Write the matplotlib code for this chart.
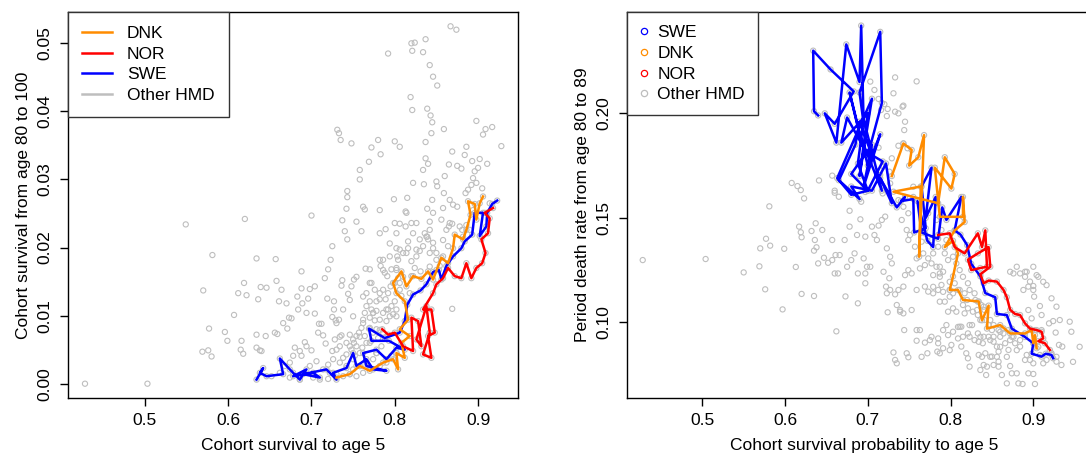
import matplotlib
matplotlib.use("Agg")
import matplotlib.pyplot as plt
from matplotlib.lines import Line2D

plt.rcParams['font.family'] = ['Liberation Sans', 'DejaVu Sans']

# ---- left panel: cohort survival to 5 vs cohort survival 80 -> 100
left_other_x = [0.428, 0.503, 0.549, 0.581, 0.570, 0.577, 0.569, 0.576, 0.580, 0.596, 0.599, 0.607,
                0.612, 0.619, 0.622, 0.620, 0.616, 0.615, 0.618, 0.634, 0.657, 0.639, 0.646, 0.636,
                0.634, 0.645, 0.656, 0.659, 0.634, 0.638, 0.640, 0.658, 0.661, 0.664, 0.670, 0.666,
                0.671, 0.673, 0.676, 0.688, 0.688, 0.704, 0.698, 0.683, 0.689, 0.696, 0.700, 0.684,
                0.694, 0.704, 0.709, 0.712, 0.680, 0.686, 0.688, 0.694, 0.700, 0.692, 0.708, 0.714,
                0.717, 0.725, 0.728, 0.736, 0.716, 0.720, 0.723, 0.725, 0.719, 0.727, 0.727, 0.725,
                0.729, 0.733, 0.731, 0.733, 0.735, 0.748, 0.737, 0.740, 0.743, 0.742, 0.743, 0.743,
                0.736, 0.744, 0.737, 0.748, 0.751, 0.754, 0.758, 0.758, 0.769, 0.772, 0.780, 0.783,
                0.764, 0.782, 0.789, 0.794, 0.765, 0.770, 0.772, 0.766, 0.776, 0.782, 0.786, 0.783,
                0.788, 0.791, 0.796, 0.802, 0.766, 0.770, 0.778, 0.782, 0.770, 0.776, 0.792, 0.800,
                0.806, 0.799, 0.800, 0.806, 0.813, 0.815, 0.813, 0.814, 0.802, 0.806, 0.803, 0.820,
                0.824, 0.837, 0.821, 0.834, 0.842, 0.846, 0.851, 0.819, 0.821, 0.839, 0.843, 0.845,
                0.844, 0.859, 0.837, 0.837, 0.840, 0.834, 0.822, 0.835, 0.839, 0.845, 0.850, 0.851,
                0.860, 0.865, 0.869, 0.875, 0.880, 0.884, 0.886, 0.898, 0.906, 0.909, 0.917, 0.928,
                0.911, 0.902, 0.893, 0.896, 0.900, 0.894, 0.898, 0.892, 0.905, 0.867, 0.874, 0.859,
                0.866, 0.858, 0.870, 0.875, 0.856, 0.865, 0.869, 0.881, 0.885, 0.888, 0.869, 0.846,
                0.842, 0.836, 0.840, 0.834, 0.830, 0.826, 0.820, 0.824, 0.831, 0.820, 0.816, 0.810,
                0.816, 0.822, 0.830, 0.842, 0.839, 0.846, 0.850, 0.854, 0.746, 0.750, 0.754, 0.748,
                0.742, 0.752, 0.757, 0.760, 0.764, 0.766, 0.761, 0.770, 0.774, 0.778, 0.780, 0.786,
                0.790, 0.794, 0.792, 0.796, 0.800, 0.798, 0.789, 0.786, 0.792, 0.795, 0.800, 0.804,
                0.806, 0.808, 0.802, 0.784, 0.778, 0.774, 0.766, 0.758, 0.750, 0.742, 0.734, 0.726,
                0.720, 0.714, 0.722, 0.730, 0.738, 0.746, 0.754, 0.762, 0.770, 0.782, 0.790, 0.796,
                0.802, 0.750, 0.738, 0.706, 0.698, 0.678, 0.674, 0.686, 0.702, 0.710, 0.720, 0.678,
                0.674, 0.668, 0.662, 0.652, 0.734, 0.742, 0.754, 0.751, 0.758, 0.762, 0.764, 0.772,
                0.778, 0.782, 0.786, 0.774,
                0.762, 0.782, 0.754, 0.760, 0.802, 0.820, 0.826, 0.838, 0.846, 0.858, 0.864, 0.862,
                0.866, 0.878, 0.886, 0.858, 0.850, 0.842, 0.826, 0.814, 0.804, 0.794, 0.786, 0.802,
                0.810, 0.842, 0.850, 0.806, 0.818, 0.782, 0.770, 0.762, 0.746, 0.738, 0.750, 0.774,
                0.790, 0.802, 0.762, 0.730, 0.782, 0.758, 0.734, 0.746, 0.770, 0.730, 0.778, 0.914,
                0.894, 0.890, 0.882]
left_other_y = [0.0000, 0.0000, 0.0234, 0.0189, 0.0137, 0.0081, 0.0047, 0.0049, 0.0040, 0.0076, 0.0063, 0.0101,
                0.0133, 0.0148, 0.0130, 0.0242, 0.0063, 0.0050, 0.0044, 0.0184, 0.0183, 0.0142, 0.0141, 0.0124,
                0.0072, 0.0070, 0.0075, 0.0073, 0.0053, 0.0049, 0.0048, 0.0151, 0.0121, 0.0138, 0.0118, 0.0089,
                0.0081, 0.0097, 0.0096, 0.0165, 0.0140, 0.0143, 0.0139, 0.0128, 0.0118, 0.0125, 0.0247, 0.0109,
                0.0104, 0.0103, 0.0088, 0.0088, 0.0053, 0.0048, 0.0041, 0.0055, 0.0049, 0.0061, 0.0075, 0.0071,
                0.0059, 0.0048, 0.0065, 0.0071, 0.0155, 0.0168, 0.0182, 0.0202, 0.0125, 0.0121, 0.0109, 0.0098,
                0.0093, 0.0094, 0.0373, 0.0368, 0.0358, 0.0353, 0.0240, 0.0224, 0.0212, 0.0257, 0.0274, 0.0283,
                0.0144, 0.0132, 0.0152, 0.0143, 0.0153, 0.0157, 0.0314, 0.0300, 0.0326, 0.0347, 0.0358, 0.0337,
                0.0256, 0.0221, 0.0227, 0.0206, 0.0169, 0.0168, 0.0148, 0.0133, 0.0138, 0.0182, 0.0182, 0.0173,
                0.0163, 0.0158, 0.0168, 0.0170, 0.0114, 0.0121, 0.0107, 0.0124, 0.0097, 0.0093, 0.0485, 0.0356,
                0.0348, 0.0271, 0.0236, 0.0235, 0.0231, 0.0273, 0.0253, 0.0251, 0.0199, 0.0197, 0.0187, 0.0500,
                0.0501, 0.0506, 0.0489, 0.0487, 0.0468, 0.0451, 0.0438, 0.0421, 0.0402, 0.0404, 0.0394, 0.0384,
                0.0368, 0.0374, 0.0355, 0.0331, 0.0323, 0.0314, 0.0295, 0.0293, 0.0257, 0.0270, 0.0297, 0.0290,
                0.0305, 0.0322, 0.0341, 0.0320, 0.0316, 0.0336, 0.0348, 0.0386, 0.0366, 0.0374, 0.0377, 0.0349,
                0.0323, 0.0330, 0.0327, 0.0312, 0.0317, 0.0302, 0.0295, 0.0292, 0.0287, 0.0525, 0.0520, 0.0280,
                0.0270, 0.0258, 0.0263, 0.0260, 0.0241, 0.0231, 0.0235, 0.0226, 0.0280, 0.0285, 0.0110, 0.0251,
                0.0238, 0.0221, 0.0212, 0.0202, 0.0195, 0.0187, 0.0180, 0.0170, 0.0165, 0.0158, 0.0199, 0.0192,
                0.0209, 0.0221, 0.0212, 0.0226, 0.0216, 0.0199, 0.0192, 0.0173, 0.0072, 0.0065, 0.0055, 0.0050,
                0.0043, 0.0041, 0.0075, 0.0082, 0.0070, 0.0060, 0.0053, 0.0082, 0.0075, 0.0080, 0.0067, 0.0075,
                0.0092, 0.0099, 0.0109, 0.0114, 0.0121, 0.0102, 0.0124, 0.0138, 0.0133, 0.0143, 0.0148, 0.0155,
                0.0138, 0.0129, 0.0109, 0.0055, 0.0045, 0.0036, 0.0031, 0.0026, 0.0021, 0.0026, 0.0031, 0.0036,
                0.0028, 0.0021, 0.0016, 0.0014, 0.0011, 0.0014, 0.0011, 0.0016, 0.0023, 0.0026, 0.0031, 0.0041,
                0.0045, 0.0036, 0.0038, 0.0033, 0.0026, 0.0016, 0.0009, 0.0006, 0.0009, 0.0006, 0.0007, 0.0041,
                0.0031, 0.0026, 0.0016, 0.0011, 0.0055, 0.0060, 0.0070, 0.0060, 0.0045, 0.0094, 0.0104, 0.0109,
                0.0121, 0.0094, 0.0104, 0.0104,
                0.0260, 0.0255, 0.0238, 0.0224, 0.0221, 0.0236, 0.0236, 0.0216, 0.0207, 0.0211, 0.0202, 0.0226,
                0.0236, 0.0231, 0.0233, 0.0187, 0.0182, 0.0192, 0.0197, 0.0192, 0.0182, 0.0187, 0.0167, 0.0167,
                0.0157, 0.0172, 0.0167, 0.0148, 0.0133, 0.0133, 0.0148, 0.0128, 0.0123, 0.0109, 0.0099, 0.0104,
                0.0109, 0.0099, 0.0089, 0.0089, 0.0079, 0.0069, 0.0069, 0.0055, 0.0060, 0.0050, 0.0045, 0.0265,
                0.0255, 0.0226, 0.0216]

swe_left_x = [0.634, 0.642, 0.638, 0.646, 0.666, 0.662, 0.674, 0.686, 0.694, 0.678, 0.702, 0.710,
              0.690, 0.718, 0.730, 0.726, 0.742, 0.750, 0.754, 0.766, 0.774, 0.790, 0.766, 0.762,
              0.778, 0.790, 0.802, 0.812, 0.793, 0.772, 0.769, 0.788, 0.806, 0.812, 0.815, 0.822,
              0.831, 0.838, 0.846, 0.853, 0.856, 0.862, 0.870, 0.880, 0.884, 0.893, 0.896, 0.906,
              0.902, 0.910, 0.911, 0.917, 0.923]
swe_left_y = [0.0006, 0.0023, 0.0016, 0.0011, 0.0014, 0.0037, 0.0021, 0.0006, 0.0021, 0.0011, 0.0016, 0.0009,
              0.0014, 0.0021, 0.0006, 0.0016, 0.0023, 0.0045, 0.0026, 0.0036, 0.0021, 0.0019, 0.0026, 0.0045,
              0.0050, 0.0036, 0.0053, 0.0050, 0.0063, 0.0063, 0.0081, 0.0067, 0.0075, 0.0092, 0.0116, 0.0131,
              0.0137, 0.0146, 0.0164, 0.0167, 0.0153, 0.0173, 0.0187, 0.0199, 0.0209, 0.0219, 0.0251, 0.0251,
              0.0217, 0.0231, 0.0251, 0.0264, 0.0269]
dnk_left_x = [0.730, 0.746, 0.758, 0.770, 0.786, 0.798, 0.804, 0.802, 0.812, 0.808, 0.818, 0.806,
              0.816, 0.812, 0.802, 0.798, 0.808, 0.814, 0.822, 0.832, 0.840, 0.846, 0.856, 0.864,
              0.870, 0.872, 0.882, 0.886, 0.891, 0.888, 0.896, 0.898, 0.902, 0.906]
dnk_left_y = [0.0009, 0.0014, 0.0026, 0.0019, 0.0031, 0.0036, 0.0021, 0.0045, 0.0038, 0.0060, 0.0070, 0.0080,
              0.0094, 0.0121, 0.0133, 0.0148, 0.0165, 0.0143, 0.0158, 0.0154, 0.0165, 0.0153, 0.0185, 0.0177,
              0.0199, 0.0219, 0.0212, 0.0226, 0.0248, 0.0268, 0.0264, 0.0241, 0.0265, 0.0275]
nor_left_x = [0.785, 0.792, 0.800, 0.810, 0.822, 0.820, 0.828, 0.832, 0.826, 0.838, 0.842, 0.834,
              0.844, 0.840, 0.848, 0.844, 0.834, 0.846, 0.850, 0.858, 0.864, 0.872, 0.880, 0.886,
              0.892, 0.898, 0.905, 0.909, 0.904, 0.912, 0.914, 0.908, 0.918]
nor_left_y = [0.0080, 0.0072, 0.0075, 0.0055, 0.0048, 0.0097, 0.0092, 0.0055, 0.0065, 0.0114, 0.0075, 0.0043,
              0.0038, 0.0070, 0.0075, 0.0109, 0.0109, 0.0133, 0.0146, 0.0155, 0.0170, 0.0158, 0.0155, 0.0177,
              0.0155, 0.0170, 0.0177, 0.0192, 0.0212, 0.0221, 0.0243, 0.0251, 0.0258]

# ---- right panel: cohort survival to 5 vs period death rate 80-89
right_other_x = [0.428, 0.504, 0.550, 0.569, 0.576, 0.581, 0.577, 0.582, 0.570, 0.597, 0.599, 0.608,
                 0.615, 0.619, 0.623, 0.641, 0.617, 0.619, 0.620, 0.613, 0.620, 0.635, 0.632, 0.637,
                 0.645, 0.636, 0.635, 0.638, 0.647, 0.640, 0.652, 0.657, 0.661, 0.666, 0.660, 0.664,
                 0.657, 0.672, 0.662, 0.673, 0.688, 0.675, 0.680, 0.684, 0.688, 0.697, 0.699, 0.703,
                 0.697, 0.695, 0.678, 0.687, 0.697, 0.708, 0.711, 0.713, 0.705, 0.691, 0.678, 0.692,
                 0.697, 0.660, 0.665, 0.660, 0.657, 0.717, 0.721, 0.723, 0.727, 0.729, 0.719, 0.726,
                 0.722, 0.727, 0.723, 0.733, 0.737, 0.745, 0.749, 0.753, 0.743, 0.735, 0.739, 0.743,
                 0.724, 0.744, 0.731, 0.733, 0.735, 0.749, 0.759, 0.769, 0.772, 0.784, 0.733, 0.759,
                 0.731, 0.713, 0.720, 0.716, 0.724, 0.733, 0.742, 0.743, 0.737, 0.723, 0.745, 0.744,
                 0.737, 0.743, 0.748, 0.729, 0.713, 0.719, 0.715, 0.726, 0.727, 0.718, 0.737, 0.743,
                 0.749, 0.741, 0.747, 0.751, 0.749, 0.757, 0.759, 0.767, 0.773, 0.769, 0.777, 0.783,
                 0.787, 0.779, 0.787, 0.791, 0.769, 0.773, 0.779, 0.785, 0.789, 0.793, 0.787, 0.799,
                 0.797, 0.803, 0.791, 0.795, 0.803, 0.809, 0.813, 0.817, 0.821, 0.827, 0.833, 0.815,
                 0.821, 0.829, 0.833, 0.839, 0.846, 0.852, 0.856, 0.860, 0.866, 0.870, 0.858, 0.850,
                 0.842, 0.834, 0.819, 0.821, 0.823, 0.836, 0.843, 0.852, 0.858, 0.868, 0.882, 0.874,
                 0.880, 0.890, 0.896, 0.892, 0.900, 0.912, 0.922, 0.928, 0.931, 0.935, 0.927, 0.919,
                 0.924, 0.910, 0.908, 0.906, 0.896, 0.900, 0.900, 0.901, 0.890, 0.884, 0.880, 0.876,
                 0.872, 0.890, 0.894, 0.888, 0.894, 0.898, 0.902, 0.910, 0.769, 0.777, 0.765, 0.793,
                 0.797, 0.803, 0.807, 0.811, 0.815, 0.821, 0.805, 0.811, 0.817, 0.823, 0.829, 0.833,
                 0.837, 0.841, 0.841, 0.846, 0.852, 0.850, 0.858, 0.864, 0.870, 0.874, 0.878, 0.884,
                 0.809, 0.813, 0.801, 0.791, 0.777, 0.785, 0.797, 0.755, 0.763, 0.773, 0.783, 0.789,
                 0.795, 0.785, 0.779, 0.703, 0.708,
                 0.763, 0.787, 0.799, 0.803, 0.820, 0.832, 0.840, 0.848, 0.836, 0.826, 0.840, 0.852,
                 0.860, 0.872, 0.880, 0.884, 0.876, 0.864, 0.838, 0.848, 0.844, 0.858, 0.862, 0.872,
                 0.894, 0.900, 0.887, 0.902, 0.906, 0.908, 0.916, 0.928, 0.934, 0.948, 0.956, 0.946,
                 0.944, 0.932, 0.928, 0.922, 0.916, 0.912, 0.900, 0.892, 0.904, 0.763, 0.759, 0.775,
                 0.785, 0.747, 0.765, 0.787, 0.799, 0.840, 0.856, 0.868, 0.811, 0.823, 0.823, 0.836,
                 0.834, 0.848, 0.860, 0.807, 0.815, 0.830, 0.799, 0.791, 0.779, 0.759, 0.753, 0.739]
right_other_y = [0.1298, 0.1303, 0.1239, 0.1268, 0.1158, 0.1555, 0.1400, 0.1367, 0.1354, 0.1062, 0.1352, 0.1667,
                 0.1652, 0.1633, 0.1593, 0.1679, 0.1458, 0.1431, 0.1407, 0.1265, 0.1136, 0.1126, 0.1437, 0.1474,
                 0.1442, 0.1394, 0.1343, 0.1359, 0.1309, 0.1282, 0.1285, 0.1298, 0.1322, 0.1322, 0.1234, 0.1234,
                 0.1394, 0.1394, 0.0957, 0.1124, 0.1091, 0.1266, 0.1298, 0.1330, 0.1234, 0.1234, 0.1266, 0.1266,
                 0.1187, 0.1306, 0.1458, 0.1418, 0.1410, 0.1418, 0.1394, 0.1463, 0.1458, 0.1493, 0.1534, 0.1577,
                 0.1624, 0.1630, 0.1601, 0.1620, 0.1702, 0.1490, 0.1506, 0.1354, 0.1314, 0.1282, 0.1242, 0.1211,
                 0.1171, 0.1155, 0.1139, 0.1134, 0.1155, 0.1226, 0.1250, 0.1234, 0.1171, 0.1083, 0.1059, 0.1043,
                 0.1048, 0.0963, 0.0856, 0.0820, 0.0804, 0.0833, 0.0912, 0.0903, 0.0852, 0.0860, 0.2172, 0.2153,
                 0.2096, 0.2069, 0.2044, 0.2016, 0.2021, 0.2008, 0.2032, 0.2037, 0.2000, 0.1987, 0.1960, 0.1920,
                 0.1845, 0.1856, 0.1833, 0.1785, 0.1836, 0.1745, 0.1705, 0.1721, 0.1665, 0.1617, 0.1585, 0.1553,
                 0.1522, 0.1490, 0.1442, 0.1418, 0.1394, 0.1362, 0.1306, 0.1330, 0.1306, 0.1274, 0.1282, 0.1266,
                 0.1266, 0.1226, 0.1218, 0.1242, 0.1171, 0.1147, 0.1139, 0.1155, 0.1179, 0.1099, 0.1099, 0.1123,
                 0.1051, 0.1067, 0.0963, 0.0987, 0.0955, 0.0978, 0.0979, 0.1043, 0.1067, 0.1051, 0.1035, 0.0931,
                 0.0947, 0.0915, 0.0947, 0.0900, 0.0931, 0.0907, 0.0884, 0.0931, 0.0900, 0.0868, 0.0860, 0.0836,
                 0.0852, 0.0844, 0.0852, 0.0828, 0.0788, 0.0772, 0.0748, 0.0796, 0.0812, 0.0708, 0.0708, 0.0756,
                 0.0756, 0.0820, 0.0820, 0.0844, 0.0804, 0.0804, 0.0852, 0.0812, 0.0892, 0.0884, 0.0951, 0.0995,
                 0.1006, 0.1035, 0.1078, 0.1218, 0.1195, 0.1174, 0.1155, 0.1123, 0.1218, 0.1234, 0.1266, 0.1234,
                 0.1242, 0.1242, 0.1171, 0.1155, 0.1059, 0.1019, 0.0963, 0.0963, 0.1426, 0.1394, 0.1386, 0.1330,
                 0.1298, 0.1314, 0.1282, 0.1250, 0.1218, 0.1187, 0.1187, 0.1155, 0.1139, 0.1155, 0.1139, 0.1099,
                 0.1083, 0.1059, 0.1011, 0.0987, 0.0987, 0.0963, 0.0963, 0.0971, 0.0963, 0.0931, 0.0900, 0.0884,
                 0.0923, 0.0884, 0.0892, 0.0876, 0.0931, 0.0923, 0.0939, 0.1649, 0.1585, 0.1522, 0.1490, 0.1442,
                 0.1394, 0.1362, 0.1330, 0.2152, 0.2112,
                 0.1258, 0.1234, 0.1194, 0.1139, 0.1107, 0.1059, 0.1075, 0.1011, 0.1011, 0.0987, 0.0931, 0.0931,
                 0.0883, 0.0915, 0.0867, 0.0915, 0.0931, 0.0947, 0.0835, 0.0835, 0.0788, 0.0788, 0.0748, 0.0791,
                 0.0756, 0.0753, 0.0705, 0.0705, 0.0883, 0.0844, 0.0820, 0.0835, 0.0796, 0.0811, 0.0883, 0.0955,
                 0.1003, 0.1011, 0.1075, 0.1115, 0.1178, 0.1194, 0.1266, 0.1242, 0.1226, 0.0963, 0.0963, 0.0915,
                 0.0900, 0.0852, 0.0835, 0.0852, 0.0867, 0.0796, 0.0835, 0.0835, 0.0979, 0.0987, 0.0931, 0.0931,
                 0.0907, 0.0915, 0.0955, 0.1051, 0.1083, 0.1107, 0.1155, 0.1146, 0.1170, 0.1155, 0.1059, 0.1051]

swe_right_x = [0.640, 0.635, 0.634, 0.655, 0.683, 0.660, 0.648, 0.662, 0.674, 0.690, 0.692, 0.695,
               0.690, 0.715, 0.717, 0.700, 0.675, 0.668, 0.700, 0.690, 0.705, 0.663, 0.680, 0.700,
               0.688, 0.695, 0.717, 0.690, 0.678, 0.700, 0.715, 0.695, 0.705, 0.680, 0.700, 0.718,
               0.705, 0.690, 0.685, 0.665, 0.690, 0.680, 0.705, 0.722, 0.729, 0.715, 0.735, 0.745,
               0.740, 0.755, 0.756, 0.770, 0.765, 0.777, 0.770, 0.782, 0.779, 0.772, 0.760, 0.765,
               0.785, 0.790, 0.795, 0.813, 0.805, 0.812, 0.820, 0.825, 0.836, 0.842, 0.854, 0.856,
               0.868, 0.874, 0.890, 0.900, 0.898, 0.910, 0.915, 0.922, 0.924]
swe_right_y = [0.199, 0.201, 0.230, 0.221, 0.2105, 0.195, 0.200, 0.186, 0.233, 0.215, 0.242, 0.195,
               0.210, 0.239, 0.205, 0.180, 0.198, 0.186, 0.200, 0.170, 0.207, 0.169, 0.161, 0.163,
               0.176, 0.197, 0.163, 0.190, 0.210, 0.175, 0.190, 0.165, 0.185, 0.171, 0.163, 0.177,
               0.180, 0.196, 0.185, 0.168, 0.159, 0.165, 0.163, 0.176, 0.157, 0.169, 0.155, 0.160,
               0.158, 0.159, 0.143, 0.145, 0.165, 0.174, 0.150, 0.160, 0.136, 0.139, 0.158, 0.143,
               0.140, 0.155, 0.149, 0.160, 0.144, 0.142, 0.137, 0.128, 0.122, 0.114, 0.112, 0.104,
               0.1035, 0.097, 0.093, 0.090, 0.085, 0.0836, 0.0850, 0.0844, 0.0828]
dnk_right_x = [0.729, 0.743, 0.753, 0.750, 0.761, 0.768, 0.762, 0.764, 0.731, 0.755, 0.785, 0.793,
               0.805, 0.801, 0.781, 0.787, 0.815, 0.815, 0.817, 0.805, 0.793, 0.803, 0.809, 0.803,
               0.799, 0.809, 0.815, 0.834, 0.838, 0.846, 0.844, 0.860, 0.872, 0.890, 0.898, 0.900,
               0.902, 0.904]
dnk_right_y = [0.170, 0.1856, 0.1825, 0.175, 0.179, 0.1896, 0.1314, 0.165, 0.1625, 0.160, 0.157, 0.179,
               0.171, 0.164, 0.174, 0.1505, 0.1505, 0.160, 0.148, 0.144, 0.136, 0.139, 0.133, 0.122,
               0.1155, 0.1155, 0.1107, 0.110, 0.101, 0.108, 0.097, 0.0987, 0.0947, 0.0947, 0.0963, 0.090,
               0.0939, 0.0876]
nor_right_x = [0.785, 0.799, 0.805, 0.817, 0.833, 0.838, 0.842, 0.844, 0.836, 0.825, 0.821, 0.833,
               0.846, 0.848, 0.836, 0.840, 0.846, 0.856, 0.864, 0.868, 0.872, 0.878, 0.884, 0.890,
               0.896, 0.904, 0.910, 0.912, 0.906, 0.914, 0.920]
nor_right_y = [0.1418, 0.1426, 0.136, 0.133, 0.1426, 0.136, 0.144, 0.1266, 0.126, 0.125, 0.130, 0.133,
               0.136, 0.1266, 0.123, 0.1187, 0.120, 0.1195, 0.1155, 0.112, 0.106, 0.104, 0.1035, 0.0995,
               0.097, 0.0963, 0.0955, 0.0923, 0.091, 0.090, 0.0868]

grey = '#BEBEBE'
c_swe, c_dnk, c_nor = '#0000FF', '#FF8C00', '#FF0000'
fs = 12.5
lw = 1.8

fig = plt.figure(figsize=(10.86, 4.59), dpi=100)
ax1 = fig.add_axes([68 / 1086, 61 / 459, 450 / 1086, 386 / 459])
ax2 = fig.add_axes([627 / 1086, 61 / 459, 475 / 1086, 386 / 459])

pt = dict(marker='o', s=14, facecolors='none', linewidths=0.8, zorder=2)

# left panel
ax1.scatter(left_other_x, left_other_y, edgecolors=grey, **pt)
for xs, ys, col in [(swe_left_x, swe_left_y, c_swe), (dnk_left_x, dnk_left_y, c_dnk),
                    (nor_left_x, nor_left_y, c_nor)]:
    ax1.scatter(xs, ys, edgecolors=grey, **pt)
    ax1.plot(xs, ys, color=col, lw=lw, zorder=3)
ax1.set_xlim(0.4076, 0.948)
ax1.set_ylim(-0.0021, 0.0546)
ax1.set_xticks([0.5, 0.6, 0.7, 0.8, 0.9])
ax1.set_xticklabels(['0.5', '0.6', '0.7', '0.8', '0.9'])
ax1.set_yticks([0.0, 0.01, 0.02, 0.03, 0.04, 0.05])
ax1.set_yticklabels(['0.00', '0.01', '0.02', '0.03', '0.04', '0.05'], rotation=90, va='center')
ax1.set_xlabel('Cohort survival to age 5', fontsize=fs, labelpad=7)
ax1.set_ylabel('Cohort survival from age 80 to 100', fontsize=fs, labelpad=5)

h1 = [Line2D([], [], color=c_dnk, lw=lw), Line2D([], [], color=c_nor, lw=lw),
      Line2D([], [], color=c_swe, lw=lw), Line2D([], [], color=grey, lw=lw)]
lg1 = ax1.legend(h1, ['DNK', 'NOR', 'SWE', 'Other HMD'], loc='upper left', fontsize=fs,
                 borderaxespad=0, fancybox=False, framealpha=1, edgecolor='#333333',
                 handlelength=1.75, handletextpad=0.85, labelspacing=0.32, borderpad=0.8)
lg1.get_frame().set_linewidth(1.0)

# right panel
ax2.scatter(right_other_x, right_other_y, edgecolors=grey, **pt)
for xs, ys, col in [(swe_right_x, swe_right_y, c_swe), (dnk_right_x, dnk_right_y, c_dnk),
                    (nor_right_x, nor_right_y, c_nor)]:
    ax2.scatter(xs, ys, edgecolors=grey, **pt)
    ax2.plot(xs, ys, color=col, lw=lw, zorder=3)
ax2.set_xlim(0.409, 0.409 + 475 / 827.5)
ax2.set_ylim(0.0638, 0.2485)
ax2.set_xticks([0.5, 0.6, 0.7, 0.8, 0.9])
ax2.set_xticklabels(['0.5', '0.6', '0.7', '0.8', '0.9'])
ax2.set_yticks([0.10, 0.15, 0.20])
ax2.set_yticklabels(['0.10', '0.15', '0.20'], rotation=90, va='center')
ax2.set_xlabel('Cohort survival probability to age 5', fontsize=fs, labelpad=7)
ax2.set_ylabel('Period death rate from age 80 to 89', fontsize=fs, labelpad=5)

mk = dict(marker='o', ls='none', markersize=4.5, markerfacecolor='none', markeredgewidth=0.9)
h2 = [Line2D([], [], color=c_swe, **mk), Line2D([], [], color=c_dnk, **mk),
      Line2D([], [], color=c_nor, **mk), Line2D([], [], color=grey, **mk)]
lg2 = ax2.legend(h2, ['SWE', 'DNK', 'NOR', 'Other HMD'], loc='upper left', fontsize=fs,
                 borderaxespad=0, fancybox=False, framealpha=1, edgecolor='#333333',
                 handlelength=0.5, handletextpad=0.5, labelspacing=0.32, borderpad=0.75)
lg2.get_frame().set_linewidth(1.0)

for ax in (ax1, ax2):
    ax.tick_params(direction='out', length=6, width=1, labelsize=fs, pad=5)
    for sp in ax.spines.values():
        sp.set_linewidth(1.0)

fig.savefig('out.png', dpi=100)
